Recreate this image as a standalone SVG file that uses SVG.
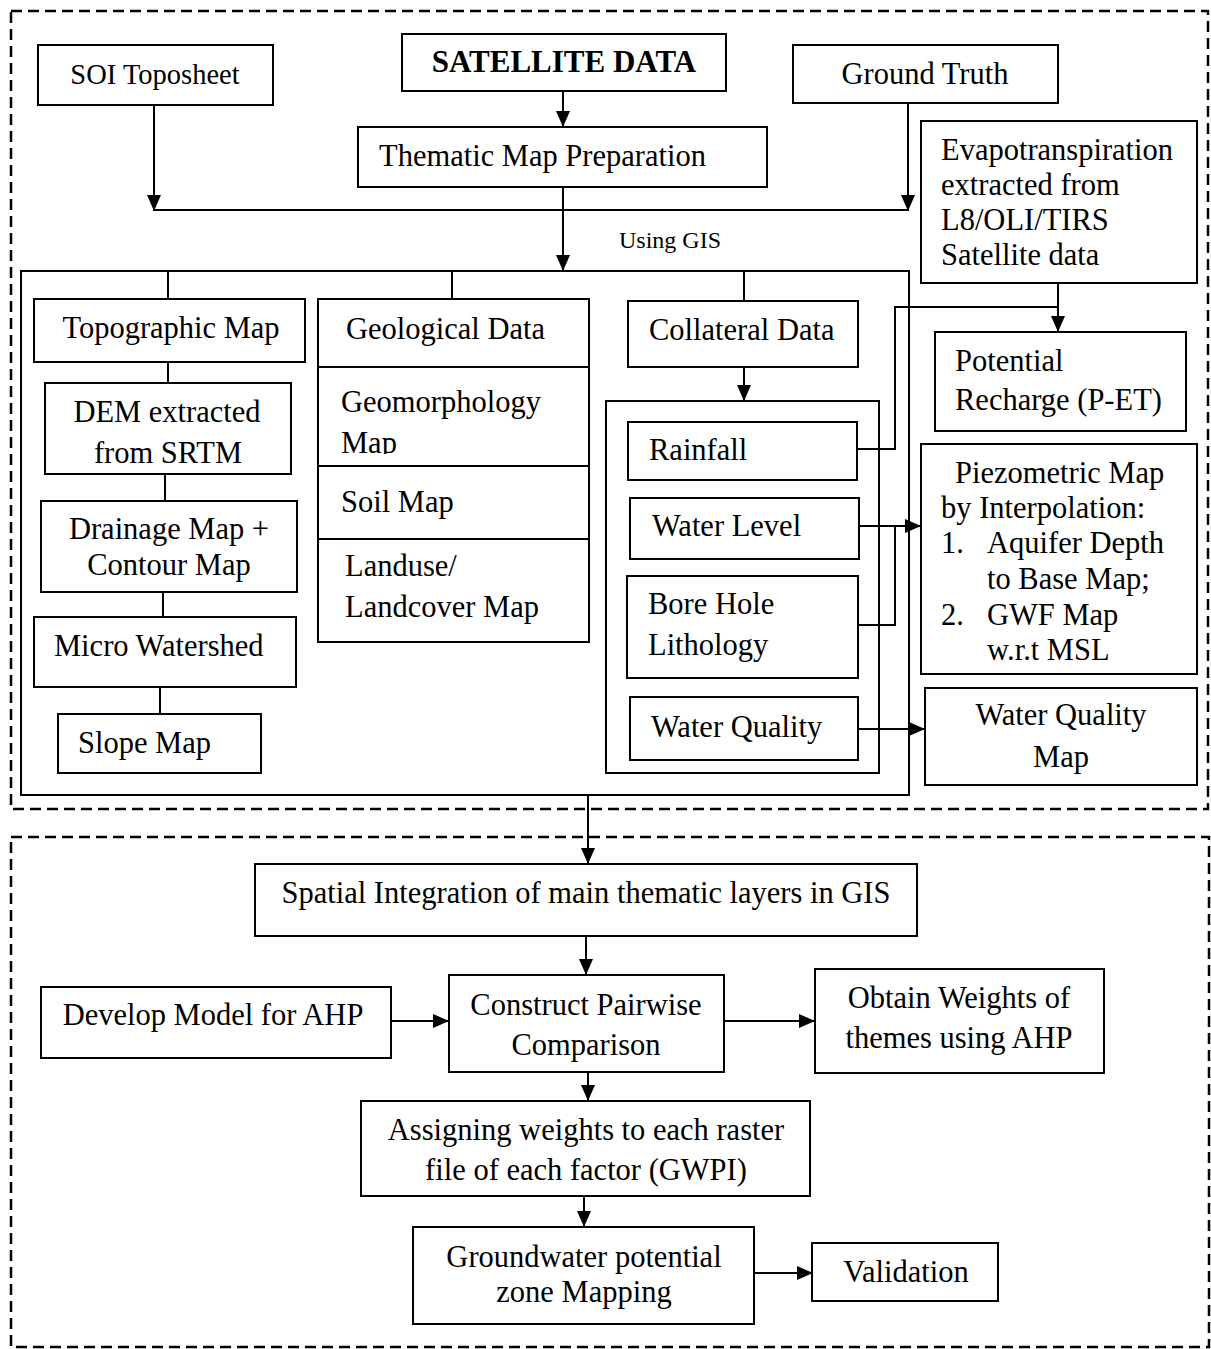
<svg xmlns="http://www.w3.org/2000/svg" width="1211" height="1349" viewBox="0 0 1211 1349">
<style>
  .bg{fill:#fff}
  .box{fill:none;stroke:#000;stroke-width:2}
  .dash{fill:none;stroke:#000;stroke-width:2.5;stroke-dasharray:11 6}
  .ln{fill:none;stroke:#000;stroke-width:2}
  .arr{fill:none;stroke:#000;stroke-width:2;marker-end:url(#ah)}
  text{font-family:"Liberation Serif","Times New Roman",serif;font-size:30.5px;fill:#000}
  .c{text-anchor:middle}
  .b{font-weight:bold}
</style>
<defs>
  <marker id="ah" markerUnits="userSpaceOnUse" markerWidth="16" markerHeight="14" viewBox="0 0 16 14" refX="16" refY="7" orient="auto">
    <path d="M0,0 L16,7 L0,14 Z" fill="#000"/>
  </marker>
  <clipPath id="geoclip"><rect x="318" y="366" width="272" height="88"/></clipPath>
</defs>
<rect class="bg" x="0" y="0" width="1211" height="1349"/>

<g id="frames">
  <rect class="dash" x="11" y="11" width="1197" height="798"/>
  <rect class="dash" x="11" y="837" width="1198" height="510"/>
</g>

<g id="connectors">
  <path class="arr" d="M154,105 V211"/>
  <path class="arr" d="M908,103 V211"/>
  <path class="ln" d="M154,210 H908"/>
  <path class="arr" d="M563,91 V127"/>
  <path class="arr" d="M563,187 V271"/>
  <path class="ln" d="M168,271 V299 M452,271 V299 M744,271 V301"/>
  <path class="ln" d="M168,362 V383 M165,474 V501 M163,592 V617 M160,687 V714"/>
  <path class="arr" d="M744,367 V401"/>
  <path class="arr" d="M1058,283 V332"/>
  <path class="ln" d="M857,449 H895 V307 H1058"/>
  <path class="arr" d="M859,526 H921"/>
  <path class="ln" d="M858,625 H895 V526"/>
  <path class="arr" d="M858,729 H925"/>
  <path class="arr" d="M588,795 V864"/>
  <path class="arr" d="M586,936 V975"/>
  <path class="arr" d="M391,1021 H449"/>
  <path class="arr" d="M724,1021 H815"/>
  <path class="arr" d="M588,1072 V1101"/>
  <path class="arr" d="M584,1196 V1227"/>
  <path class="arr" d="M754,1273 H813"/>
</g>

<g id="soi">
  <rect class="box" x="38" y="45" width="235" height="60"/>
  <text class="c" x="155" y="84" style="font-size:28.5px">SOI Toposheet</text>
</g>
<g id="satellite">
  <rect class="box" x="402" y="34" width="324" height="57"/>
  <text class="c b" x="564" y="72" style="font-size:31px">SATELLITE DATA</text>
</g>
<g id="ground-truth">
  <rect class="box" x="793" y="45" width="265" height="58"/>
  <text class="c" x="925" y="84">Ground Truth</text>
</g>
<g id="thematic">
  <rect class="box" x="358" y="127" width="409" height="60"/>
  <text x="379" y="166">Thematic Map Preparation</text>
</g>
<g id="evapo">
  <rect class="box" x="921" y="121" width="276" height="162"/>
  <text x="941" y="160">Evapotranspiration</text>
  <text x="941" y="195">extracted from</text>
  <text x="941" y="230">L8/OLI/TIRS</text>
  <text x="941" y="265">Satellite data</text>
</g>
<g id="using-gis">
  <text x="619" y="248" style="font-size:24px">Using GIS</text>
</g>
<g id="inner">
  <rect class="box" x="21" y="271" width="888" height="524"/>
</g>
<g id="topographic">
  <rect class="box" x="34" y="299" width="271" height="63"/>
  <text class="c" x="171" y="338">Topographic Map</text>
</g>
<g id="dem">
  <rect class="box" x="45" y="383" width="246" height="91"/>
  <text class="c" x="167" y="422">DEM extracted</text>
  <text class="c" x="168" y="463">from SRTM</text>
</g>
<g id="drainage">
  <rect class="box" x="41" y="501" width="256" height="91"/>
  <text class="c" x="169" y="539">Drainage Map +</text>
  <text class="c" x="169" y="575">Contour Map</text>
</g>
<g id="micro">
  <rect class="box" x="34" y="617" width="262" height="70"/>
  <text x="54" y="656">Micro Watershed</text>
</g>
<g id="slope">
  <rect class="box" x="58" y="714" width="203" height="59"/>
  <text x="78" y="753">Slope Map</text>
</g>
<g id="geological">
  <rect class="box" x="318" y="299" width="271" height="343"/>
  <path class="ln" d="M318,367 H589 M318,466 H589 M318,539 H589"/>
  <text x="346" y="339">Geological Data</text>
  <text x="341" y="412">Geomorphology</text>
  <text x="341" y="453" clip-path="url(#geoclip)">Map</text>
  <text x="341" y="512">Soil Map</text>
  <text x="345" y="576">Landuse/</text>
  <text x="345" y="617">Landcover Map</text>
</g>
<g id="collateral">
  <rect class="box" x="628" y="301" width="230" height="66"/>
  <text x="649" y="340">Collateral Data</text>
</g>
<g id="collateral-group">
  <rect class="box" x="606" y="401" width="273" height="372"/>
</g>
<g id="rainfall">
  <rect class="box" x="628" y="422" width="229" height="58"/>
  <text x="649" y="460">Rainfall</text>
</g>
<g id="water-level">
  <rect class="box" x="630" y="498" width="229" height="61"/>
  <text x="652" y="536">Water Level</text>
</g>
<g id="borehole">
  <rect class="box" x="627" y="576" width="231" height="102"/>
  <text x="648" y="614">Bore Hole</text>
  <text x="648" y="655">Lithology</text>
</g>
<g id="water-quality">
  <rect class="box" x="630" y="697" width="228" height="63"/>
  <text x="651" y="737">Water Quality</text>
</g>
<g id="recharge">
  <rect class="box" x="935" y="332" width="251" height="99"/>
  <text x="955" y="371">Potential</text>
  <text x="955" y="410">Recharge (P-ET)</text>
</g>
<g id="piezometric">
  <rect class="box" x="921" y="444" width="276" height="230"/>
  <text x="955" y="483">Piezometric Map</text>
  <text x="941" y="518">by Interpolation:</text>
  <text x="941" y="553">1.</text>
  <text x="987" y="553">Aquifer Depth</text>
  <text x="987" y="589">to Base Map;</text>
  <text x="941" y="625">2.</text>
  <text x="987" y="625">GWF Map</text>
  <text x="987" y="660">w.r.t MSL</text>
</g>
<g id="wq-map">
  <rect class="box" x="925" y="688" width="272" height="97"/>
  <text class="c" x="1061" y="725">Water Quality</text>
  <text class="c" x="1061" y="767">Map</text>
</g>

<g id="spatial">
  <rect class="box" x="255" y="864" width="662" height="72"/>
  <text class="c" x="586" y="903">Spatial Integration of main thematic layers in GIS</text>
</g>
<g id="develop">
  <rect class="box" x="41" y="987" width="350" height="71"/>
  <text class="c" x="213" y="1025">Develop Model for AHP</text>
</g>
<g id="construct">
  <rect class="box" x="449" y="975" width="275" height="97"/>
  <text class="c" x="586" y="1015">Construct Pairwise</text>
  <text class="c" x="586" y="1055">Comparison</text>
</g>
<g id="obtain">
  <rect class="box" x="815" y="969" width="289" height="104"/>
  <text class="c" x="959" y="1008">Obtain Weights of</text>
  <text class="c" x="959" y="1048">themes using AHP</text>
</g>
<g id="assigning">
  <rect class="box" x="361" y="1101" width="449" height="95"/>
  <text class="c" x="586" y="1140">Assigning weights to each raster</text>
  <text class="c" x="586" y="1180">file of each factor (GWPI)</text>
</g>
<g id="groundwater">
  <rect class="box" x="413" y="1227" width="341" height="97"/>
  <text class="c" x="584" y="1267">Groundwater potential</text>
  <text class="c" x="584" y="1302">zone Mapping</text>
</g>
<g id="validation">
  <rect class="box" x="812" y="1243" width="186" height="58"/>
  <text class="c" x="906" y="1282">Validation</text>
</g>
</svg>
